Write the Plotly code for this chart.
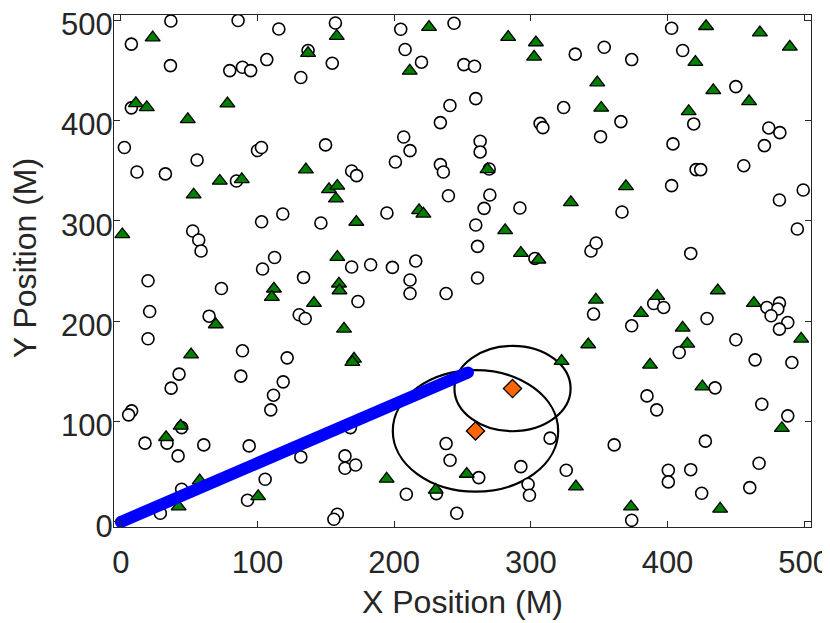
import plotly.graph_objects as go

# open circles (unused sites)
circle_x = [36.6, 85.8, 7.7, 115.6, 157, 36.3, 79.7, 89, 95, 106.8, 131.7, 154.7, 137, 7.7, 2.6,
            11.8, 32.6, 55.8, 100, 102.9, 149.8, 84.6, 118.5, 103, 146.4, 52.6, 57, 58.7, 112.5, 103.7,
            204.8, 243.8, 208, 220, 251, 258.8, 332.5, 259.7, 240.8, 233.8, 324, 306.8, 308.8, 207,
            211.6, 200.9, 262.9, 262.9, 233.8, 236, 269.5, 168.9, 172.5, 239.7, 270, 265.8, 292,
            194.7, 259.7, 261, 303, 168.9, 182.8, 198.7, 215.8,
            403, 353.7, 373.8, 411.1, 450, 365.9, 351, 419.2, 404, 474.1, 482.2, 470.9, 420.9, 424.3,
            455.8, 403, 499.3, 481.9, 366.7, 495, 344, 347.8, 417,
            19.9, 21.1, 19.9, 73.6, 133.7, 64.6, 130.5, 134.9, 89, 87.8, 121.7, 42.6, 36.8, 118.8,
            111.7, 109.7, 7.9, 5.7, 44.5, 17.7, 33.8, 60.7, 93.9, 41.9, 131.7, 164, 164, 44.5, 105.6,
            92.7, 28.9, 158.4, 155.9,
            211.6, 211.6, 238, 261, 173.5, 168, 171.8, 238, 240.9, 261.9, 292.7, 314.1, 298, 299,
            325.9, 208.9, 230.9, 245.8,
            345.9, 373.8, 389.9, 397.2, 428.9, 408.6, 450, 472.7, 481.9, 480.7, 475.8, 488, 481.9,
            464.1, 491, 434.8, 385, 392.1, 469, 488, 361, 427.7, 400.6, 400.6, 417, 467, 460.2, 425,
            373.8]
circle_y = [499, 499.5, 476, 491, 497, 454.6, 449.6, 453, 449.6, 460.6, 442.7, 457, 469.6, 412.5, 373,
            348.6, 346.7, 360.6, 370, 373, 375.6, 339.6, 306.8, 299, 297.8, 289.8, 280.9, 269.9, 263.5, 252,
            490.8, 496.8, 470.6, 458, 455.6, 454, 466, 421.7, 414.8, 397.8, 412.8, 397, 392.8, 383.5,
            369.9, 358.6, 379.2, 368.6, 356, 348.6, 351.6, 349.6, 345, 325, 325.7, 312.4, 312.8,
            307.8, 295.8, 274.5, 262.5, 254, 256.2, 253.6, 259.9,
            491.8, 472.9, 460.6, 469.6, 433.7, 398.8, 383.8, 396.5, 376.6, 392.5, 387.8, 374.9, 351, 351,
            354.9, 335, 330.7, 320.7, 308.8, 291.8, 269.9, 277.9, 267.5,
            240.3, 209.7, 182.5, 232.6, 243.6, 205, 206.4, 202.7, 170.5, 145.3, 163.5, 147.3, 133.3, 139.6,
            126.3, 111.7, 110.7, 106.7, 94, 78.5, 78.5, 76.8, 75.8, 65.8, 64.8, 65.8, 53.5, 32.6, 42.6,
            21.6, 8.7, 7.7, 2.7,
            241, 227.6, 227.6, 243, 219.6, 94, 56.8, 78.1, 61.5, 44.2, 55.1, 83.5, 37.6, 26.6,
            51.5, 27.6, 28.2, 8.7,
            207.1, 195.4, 217.6, 213.7, 202.7, 168.8, 181.5, 213.7, 218, 212.1, 205.4, 198.7, 192.1,
            161.5, 158.8, 133.6, 125.6, 111.7, 117.3, 105.7, 76.8, 80.5, 51.5, 39.9, 52.1, 58.5, 34.2, 28.6,
            1.7]

# green triangles
tri_x = [23.3, 158, 137, 11, 19, 78, 49, 135.4, 72.4, 88.5, 53.3, 152.3, 158.4, 157.4, 1.1, 158.4,
         225.5, 283.4, 303.7, 302.4, 211.4, 268.3, 329.3, 218.2, 221.4, 172.3, 281.2, 292.7, 305.6,
         428.2, 467.6, 489.5, 420.4, 348.6, 433.5, 459.7, 351.5, 415.5, 369.6,
         112, 110.5, 159.6, 160, 141.3, 69.5, 163.3, 51.4, 43.8, 33.1, 57.7, 100.5, 42.3,
         170.6, 169.4, 322.5, 194.5, 253.1, 230.4, 333,
         347.6, 392.5, 380.6, 436.8, 463.2, 411.1, 414.5, 342, 387.2, 425.5, 497.8, 483.7, 373.3, 438.5]
tri_y = [482.5, 484, 467, 417, 413, 416.7, 401, 351, 339.7, 341.3, 326, 331.3, 334.7, 322, 286.4, 263.9,
         493, 483, 477.6, 463.3, 449.3, 351.2, 318.3, 310.4, 307, 298.8, 290.4, 267.9, 261.2,
         493.8, 487.5, 473.3, 458, 437.7, 430, 419, 412.4, 409.1, 334.3,
         232.3, 224, 237.3, 230.6, 218, 196.7, 192.4, 166.8, 95.7, 84.4, 41.2, 25.6, 15.2,
         162.5, 159.2, 160.2, 42.9, 47.8, 31.9, 35.2,
         221.3, 225, 208.1, 230.6, 218, 193.4, 177.5, 176.8, 156.5, 134.9, 182.4, 93.4, 15.2, 13]

# orange diamonds and their coverage radii
diamond_x = [286.6, 259.5]
diamond_y = [132.9, 90.7]
radius = [42.5, 60.5]

# blue path
path_x = [0, 254]
path_y = [0, 149]

axis_color = "#262626"
font_family = "Liberation Sans, Arial, sans-serif"

fig = go.Figure()

for cx, cy, r in zip(diamond_x, diamond_y, radius):
    fig.add_shape(type="circle", xref="x", yref="y",
                  x0=cx - r, x1=cx + r, y0=cy - r, y1=cy + r,
                  line=dict(color="black", width=2.2), layer="below")

fig.add_trace(go.Scatter(
    x=circle_x, y=circle_y, mode="markers",
    marker=dict(symbol="circle", size=12, color="white", line=dict(color="black", width=1.6))))

fig.add_trace(go.Scatter(
    x=tri_x, y=tri_y, mode="markers",
    marker=dict(symbol="triangle-up", size=13, color="#008000", line=dict(color="black", width=1.3))))

fig.add_trace(go.Scatter(
    x=path_x, y=path_y, mode="lines+markers",
    line=dict(color="#0000ff", width=12),
    marker=dict(size=12, color="#0000ff")))

fig.add_trace(go.Scatter(
    x=diamond_x, y=diamond_y, mode="markers",
    marker=dict(symbol="diamond", size=14, color="#ff6600", line=dict(color="black", width=1.3))))

axis_common = dict(
    range=[-5, 505], tickvals=[0, 100, 200, 300, 400, 500],
    ticks="inside", ticklen=6, tickcolor=axis_color,
    showline=True, linecolor=axis_color, linewidth=1, mirror="ticks",
    showgrid=False, zeroline=False, automargin=False, ticklabeloverflow="allow",
    tickfont=dict(family=font_family, size=31, color=axis_color),
)

# page body adds an 8px offset, so the figure is a bit smaller than the window
fig.update_layout(
    width=822, height=615,
    margin=dict(l=106, r=19, t=7, b=96),
    paper_bgcolor="white", plot_bgcolor="white",
    showlegend=False,
    xaxis=dict(axis_common, ticklabelstandoff=8),
    yaxis=dict(axis_common, ticklabelstandoff=-6, ticklabelshift=4),
)

fig.add_annotation(text="X Position (M)", xref="paper", yref="paper", x=0.5, y=-0.146,
                   yanchor="middle", showarrow=False,
                   font=dict(family=font_family, size=32, color=axis_color))
fig.add_annotation(text="Y Position (M)", xref="paper", yref="paper", x=-0.1277, y=0.525,
                   xanchor="center", yanchor="middle", textangle=-90, showarrow=False,
                   font=dict(family=font_family, size=32, color=axis_color))

fig.write_html("out.html")
